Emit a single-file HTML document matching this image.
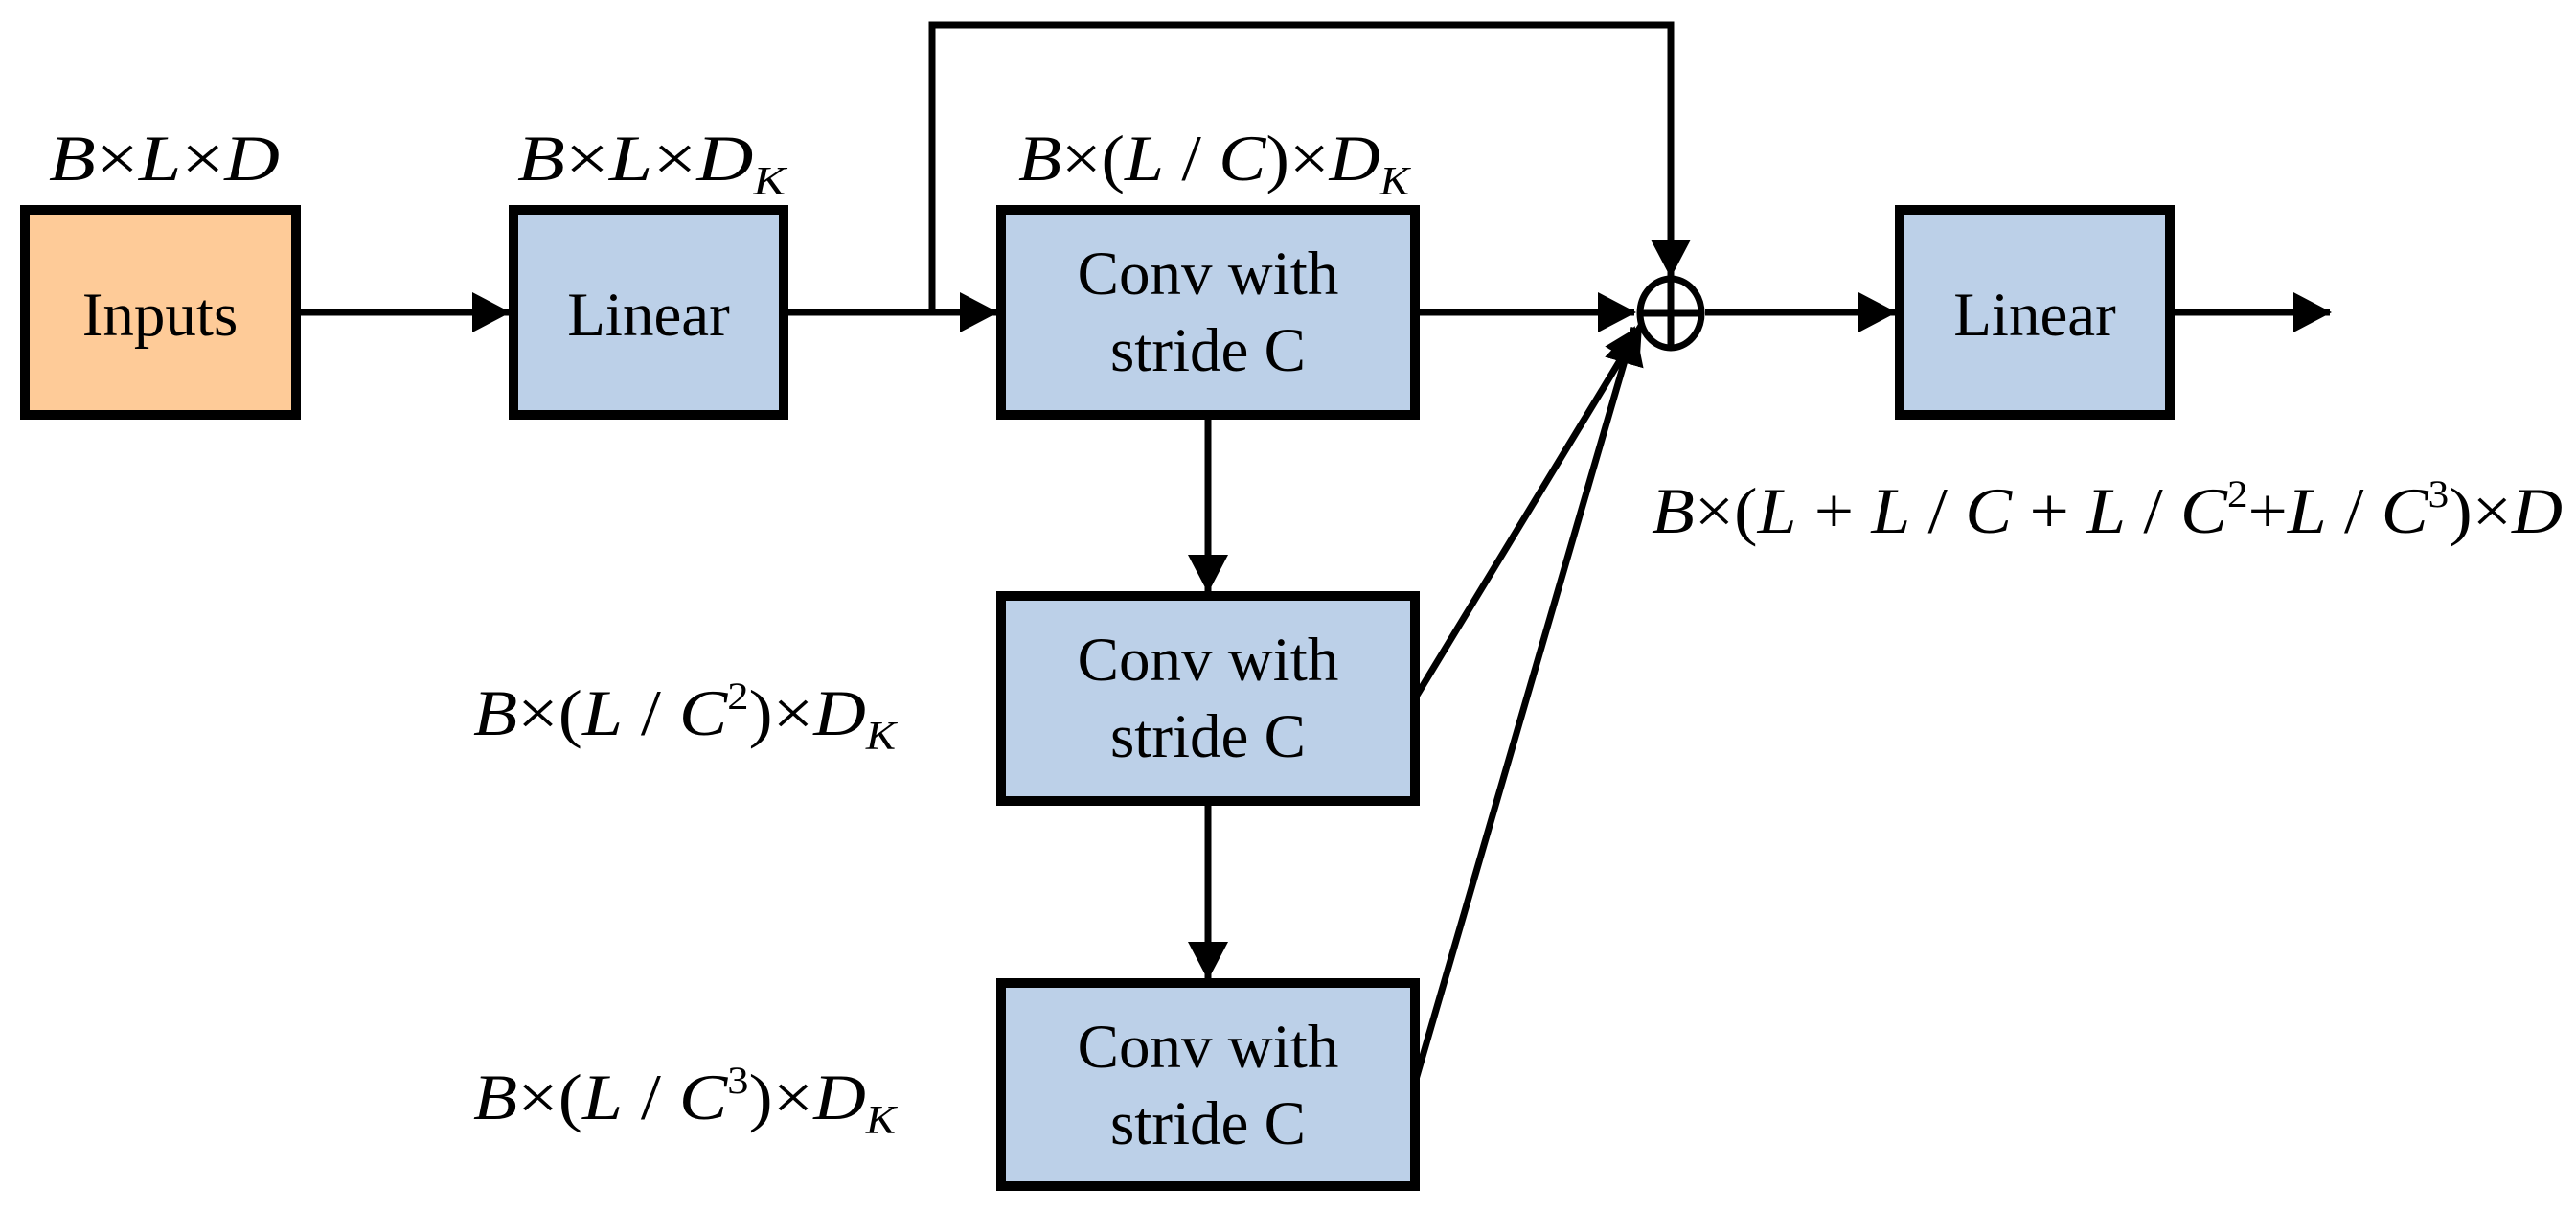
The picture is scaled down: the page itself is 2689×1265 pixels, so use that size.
<!DOCTYPE html>
<html><head><meta charset="utf-8"><style>
html,body{margin:0;padding:0;background:#fff;}
svg{display:block;}
.m{font-family:"Liberation Serif",serif;font-style:italic;font-size:68px;}
.u{font-style:normal;}
.b{font-family:"Liberation Serif",serif;font-size:65px;text-anchor:middle;}
</style></head><body>
<svg width="2689" height="1265" viewBox="0 0 2689 1265" xmlns="http://www.w3.org/2000/svg">
<defs>
<marker id="a" markerWidth="40" markerHeight="42" refX="38" refY="21" orient="auto" markerUnits="userSpaceOnUse">
<path d="M0,0 L40,21 L0,42 Z" fill="#000"/></marker>
</defs>
<g stroke="#000" stroke-width="10">
<rect x="26" y="219" width="283" height="214" fill="#FECB98"/>
<rect x="536" y="219" width="282" height="214" fill="#BCD0E8"/>
<rect x="1045" y="219" width="432" height="214" fill="#BCD0E8"/>
<rect x="1045" y="622" width="432" height="214" fill="#BCD0E8"/>
<rect x="1045" y="1026" width="432" height="212" fill="#BCD0E8"/>
<rect x="1983" y="219" width="282" height="214" fill="#BCD0E8"/>
</g>
<g stroke="#000" stroke-width="7" fill="none">
<line x1="309" y1="326" x2="531" y2="326" marker-end="url(#a)"/>
<line x1="818" y1="326" x2="1040" y2="326" marker-end="url(#a)"/>
<polyline points="973,326 973,26 1744,26 1744,288" marker-end="url(#a)"/>
<line x1="1477" y1="326" x2="1706" y2="326" marker-end="url(#a)"/>
<line x1="1780" y1="326" x2="1978" y2="326" marker-end="url(#a)"/>
<line x1="2265" y1="326" x2="2432" y2="326" marker-end="url(#a)"/>
<line x1="1261" y1="433" x2="1261" y2="617" marker-end="url(#a)"/>
<line x1="1261" y1="836" x2="1261" y2="1021" marker-end="url(#a)"/>
<line x1="1477" y1="729" x2="1713" y2="340" marker-end="url(#a)"/>
<line x1="1477" y1="1130" x2="1706" y2="342" marker-end="url(#a)"/>
<ellipse cx="1744" cy="327" rx="32" ry="36"/>
<line x1="1744" y1="291" x2="1744" y2="363"/>
<line x1="1712" y1="327" x2="1776" y2="327"/>
</g>
<text class="b" x="167" y="350">Inputs</text>
<text class="b" x="677" y="350">Linear</text>
<text class="b" x="2124" y="350">Linear</text>
<text class="b" x="1261" y="307">Conv with</text><text class="b" x="1261" y="387">stride C</text>
<text class="b" x="1261" y="710">Conv with</text><text class="b" x="1261" y="790">stride C</text>
<text class="b" x="1261" y="1114">Conv with</text><text class="b" x="1261" y="1194">stride C</text>
<text class="m" x="51" y="188" textLength="241" lengthAdjust="spacingAndGlyphs">B<tspan class="u">×</tspan>L<tspan class="u">×</tspan>D</text>
<text class="m" x="540" y="188" textLength="280" lengthAdjust="spacingAndGlyphs">B<tspan class="u">×</tspan>L<tspan class="u">×</tspan>D<tspan font-size="42" dy="15">K</tspan></text>
<text class="m" x="1063" y="188" textLength="408" lengthAdjust="spacingAndGlyphs">B<tspan class="u">×(</tspan>L<tspan class="u"> / </tspan>C<tspan class="u">)×</tspan>D<tspan font-size="42" dy="15">K</tspan></text>
<text class="m" x="494" y="767" textLength="441" lengthAdjust="spacingAndGlyphs">B<tspan class="u">×(</tspan>L<tspan class="u"> / </tspan>C<tspan class="u" font-size="40" dy="-27">2</tspan><tspan class="u" dy="27">)×</tspan>D<tspan font-size="42" dy="15">K</tspan></text>
<text class="m" x="494" y="1168" textLength="441" lengthAdjust="spacingAndGlyphs">B<tspan class="u">×(</tspan>L<tspan class="u"> / </tspan>C<tspan class="u" font-size="40" dy="-27">3</tspan><tspan class="u" dy="27">)×</tspan>D<tspan font-size="42" dy="15">K</tspan></text>
<text class="m" x="1724" y="556" textLength="951" lengthAdjust="spacingAndGlyphs">B<tspan class="u">×(</tspan>L<tspan class="u"> + </tspan>L<tspan class="u"> / </tspan>C<tspan class="u"> + </tspan>L<tspan class="u"> / </tspan>C<tspan class="u" font-size="40" dy="-27">2</tspan><tspan class="u" dy="27">+</tspan>L<tspan class="u"> / </tspan>C<tspan class="u" font-size="40" dy="-27">3</tspan><tspan class="u" dy="27">)×</tspan>D</text>
</svg>
</body></html>
